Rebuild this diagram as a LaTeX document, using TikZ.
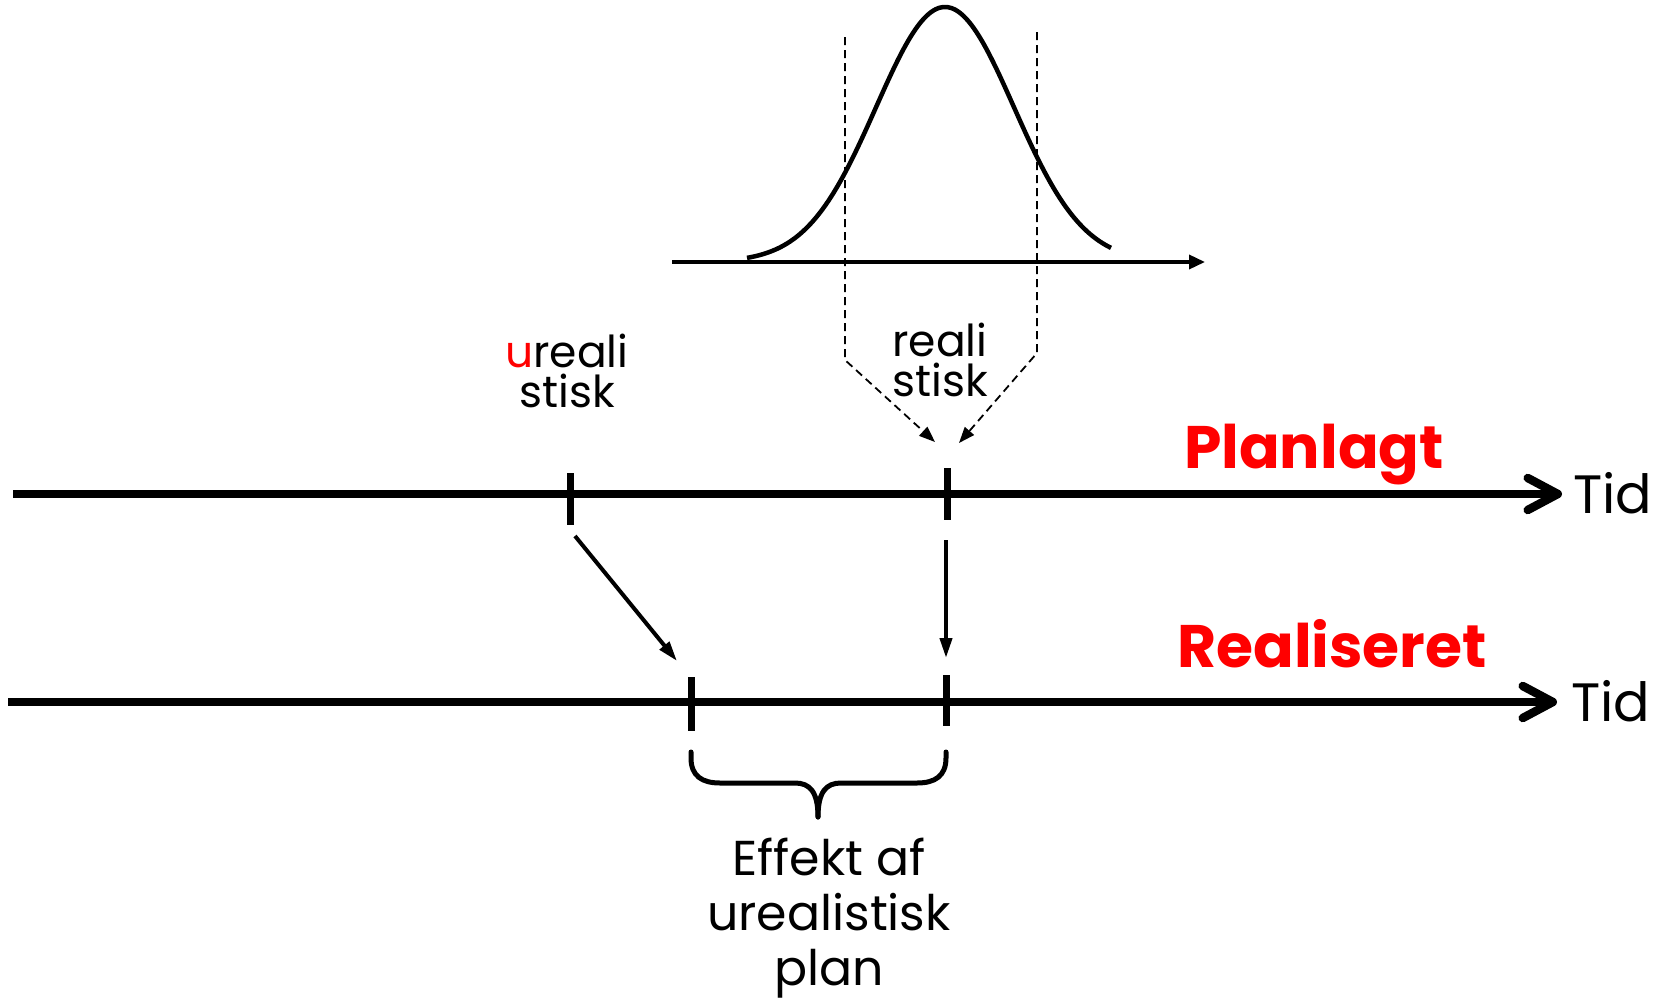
\documentclass[tikz,border=0pt]{standalone}
\usepackage{fontspec}
\setmainfont{Poppins}
\usetikzlibrary{arrows.meta,positioning}
\definecolor{plRed}{HTML}{FF0000}
\tikzset{
  timeLine/.style={line width=8.5pt, -{Straight Barb[length=30pt,width=32pt,round]}},
  tickMark/.style={line width=7pt},
  moveArrow/.style={line width=4pt, -{Triangle[length=20pt,width=12pt]}},
  dashArrow/.style={line width=1.8pt, dash pattern=on 8pt off 5pt, -{Triangle[length=16pt,width=12pt]}},
  gaussCurve/.style={line width=4.5pt},
  axisArrow/.style={line width=3.5pt, -{Triangle[length=16pt,width=14pt]}},
  braceLine/.style={line width=5pt, line cap=round},
  tidLabel/.style={font=\fontsize{54}{60}\selectfont, inner sep=0pt, anchor=base west},
  redLabel/.style={font=\fontsize{60}{70}\selectfont\bfseries, text=plRed, inner sep=0pt, anchor=base},
  stackLabel/.style={font=\fontsize{44}{40}\selectfont, align=center, inner sep=0pt, anchor=north},
  effLabel/.style={font=\fontsize{49}{55}\selectfont, align=center, inner sep=0pt, anchor=north}
}
\begin{document}
\begin{tikzpicture}[x=1pt,y=-1pt]
  \useasboundingbox (0,0) rectangle (1666,1004);
  \coordinate (gL) at (672,262);
  \coordinate (gR) at (1205,262);
  \draw[axisArrow] (gL) -- (gR);
  \draw[gaussCurve] plot[domain=747:1111,samples=90,smooth] (\x,{262-255*exp(-0.5*(((\x-945)/69)^2))});
  \coordinate (dLtop) at (845,37);
  \coordinate (dLbend) at (845,360);
  \coordinate (dLtip) at (935,442);
  \coordinate (dRtop) at (1037,32);
  \coordinate (dRbend) at (1037,353);
  \coordinate (dRtip) at (959,443);
  \draw[dashArrow] (dLtop) -- (dLbend) -- (dLtip);
  \draw[dashArrow] (dRtop) -- (dRbend) -- (dRtip);
  \node[stackLabel] (lblUreal) at (567,334) {{\color{plRed}u}reali\\stisk};
  \node[stackLabel] (lblReal) at (940,323) {reali\\stisk};
  \coordinate (pS) at (13,494);
  \coordinate (pE) at (1562,494);
  \draw[timeLine] (pS) -- (pE);
  \node[tidLabel] (tidPlan) at (1573,513) {Tid};
  \node[redLabel] (lblPlan) at (1314,468) {Planlagt};
  \coordinate (rS) at (8,702);
  \coordinate (rE) at (1557,702);
  \draw[timeLine] (rS) -- (rE);
  \node[tidLabel] (tidReal) at (1571,721) {Tid};
  \node[redLabel] (lblDone) at (1332,667) {Realiseret};
  \coordinate (tPU) at (570,494);
  \coordinate (tPR) at (947,494);
  \coordinate (tRU) at (691,702);
  \coordinate (tRR) at (946,702);
  \draw[tickMark] (tPU) ++(0,-21) -- ++(0,52);
  \draw[tickMark] (tPR) ++(0,-26) -- ++(0,52);
  \draw[tickMark] (tRU) ++(0,-25) -- ++(0,54);
  \draw[tickMark] (tRR) ++(0,-27) -- ++(0,51);
  \coordinate (mvUs) at (575,536);
  \coordinate (mvUe) at (677,661);
  \coordinate (mvRs) at (946,540);
  \coordinate (mvRe) at (946,658);
  \draw[moveArrow] (mvUs) -- (mvUe);
  \draw[moveArrow] (mvRs) -- (mvRe);
  \draw[braceLine] (691,752) -- (691,758) .. controls (691,776) and (702,783) .. (720,783) -- (795,783) .. controls (810,783) and (818,792) .. (818,817);
  \draw[braceLine] (946,752) -- (946,758) .. controls (946,776) and (935,783) .. (917,783) -- (841,783) .. controls (826,783) and (818,792) .. (818,817);
  \node[effLabel] (lblEff) at (829,838) {Effekt af\\urealistisk\\plan};
\end{tikzpicture}
\end{document}
